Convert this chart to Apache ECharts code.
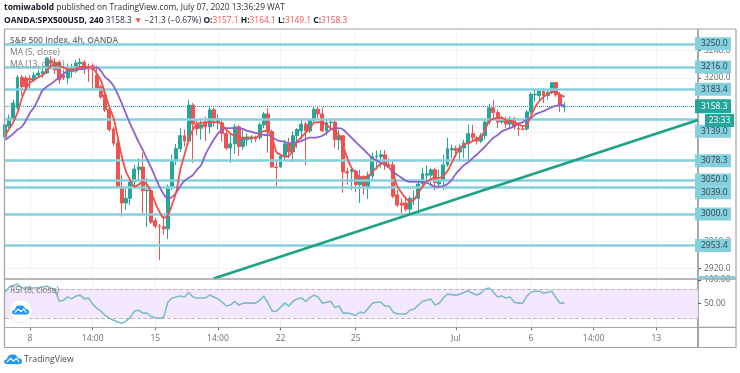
<!DOCTYPE html>
<html><head><meta charset="utf-8">
<style>html,body{margin:0;padding:0;background:#fff}#c{width:740px;height:373px;filter:blur(0.3px)}</style>
<script src="https://cdn.jsdelivr.net/npm/echarts@6/dist/echarts.min.js"></script>
</head><body><div id="c"></div>
<script>
const tickIdx=[6,21,36,51,66,84,108,126,141,156];
const tickLabels=['8','14:00','15','14:00','22','25','Jul','6','14:00','13'];
const opens=[3113,3129,3141,3156,3201,3200,3199,3197,3204,3206,
3207,3226,3223,3223,3204,3200,3209,3210,3221,3223,
3215,3218,3204,3187,3175,3154,3125,3104,3040,3016,
3023,3047,3065,3069,3034,3034,2990,2982,2981,2978,
3040,3078,3096,3115,3107,3160,3132,3126,3134,3128,
3153,3134,3134,3118,3097,3103,3128,3099,3109,3110,
3113,3112,3131,3147,3121,3069,3069,3084,3103,3091,
3115,3122,3132,3122,3138,3154,3147,3122,3134,3135,
3109,3115,3062,3062,3063,3043,3054,3038,3056,3084,
3084,3087,3072,3072,3028,3016,3016,3007,3022,3023,
3044,3057,3057,3065,3044,3050,3072,3094,3096,3091,
3097,3104,3118,3112,3107,3115,3135,3156,3149,3135,
3138,3132,3140,3126,3125,3125,3150,3175,3174,3181,
3174,3179,3193,3175,3157.1];
const closes=[3131,3141,3163,3201,3187,3187,3197,3204,3207,3209,
3229,3222,3212,3197,3200,3215,3215,3222,3223,3215,
3213,3212,3185,3172,3153,3124,3104,3040,3016,3023,
3047,3066,3069,3034,3035,2988,2982,2981,2978,3040,
3078,3096,3115,3107,3160,3132,3125,3131,3128,3153,
3140,3140,3118,3097,3103,3128,3099,3112,3113,3113,
3110,3131,3147,3121,3069,3068,3085,3103,3091,3115,
3124,3132,3122,3138,3154,3147,3122,3134,3135,3109,
3115,3062,3060,3065,3043,3054,3038,3056,3084,3085,
3087,3072,3071,3026,3013,3013,3007,3023,3023,3044,
3059,3059,3065,3046,3050,3072,3096,3096,3093,3097,
3104,3118,3112,3107,3115,3135,3156,3149,3135,3140,
3132,3140,3128,3125,3124,3150,3176,3176,3181,3174,
3179,3193,3175,3160,3158.3];
const highs=[3138,3146,3168,3204,3204,3203,3204,3209,3212,3215,
3231,3232,3229,3226,3212,3221,3221,3226,3229,3226,
3221,3221,3218,3190,3179,3157,3128,3109,3057,3040,
3053,3072,3082,3090,3053,3041,2994,2985,2997,3043,
3087,3103,3126,3124,3168,3163,3138,3141,3143,3159,
3156,3146,3141,3124,3118,3132,3131,3126,3118,3116,
3115,3135,3150,3156,3124,3079,3088,3109,3112,3121,
3126,3138,3135,3141,3157,3157,3156,3138,3141,3138,
3124,3116,3068,3068,3065,3065,3057,3062,3090,3093,
3094,3094,3082,3079,3035,3023,3026,3026,3035,3047,
3068,3071,3068,3068,3065,3087,3112,3102,3100,3102,
3109,3131,3131,3115,3119,3141,3162,3168,3153,3144,
3143,3143,3143,3135,3129,3153,3179,3182,3184,3185,
3182,3194,3194,3179,3164.1];
const lows=[3109,3126,3138,3153,3174,3182,3185,3194,3201,3200,
3206,3212,3206,3191,3197,3191,3200,3207,3215,3206,
3194,3182,3185,3169,3150,3121,3100,3038,2996,3006,
3013,3038,3050,3001,2981,2985,2979,2932,2969,2963,
3035,3072,3091,3099,3106,3075,3116,3109,3107,3118,
3128,3124,3106,3094,3075,3088,3085,3094,3100,3104,
3106,3109,3126,3090,3068,3040,3068,3079,3082,3076,
3097,3109,3072,3119,3134,3138,3121,3115,3126,3097,
3094,3031,3043,3035,3032,3016,3028,3022,3050,3065,
3068,3065,3068,3023,3010,3000,3004,2998,3013,2998,
3038,3047,3041,3035,3041,3035,3069,3082,3085,3079,
3082,3079,3106,3102,3104,3109,3131,3138,3126,3132,
3126,3126,3124,3115,3124,3122,3147,3165,3168,3163,
3168,3176,3172,3150,3149.1];
const ma5=[3115,3125,3135,3149,3169,3184,3193,3197,3201,3204,
3210,3218,3219,3218,3215,3213,3212,3213,3216,3216,
3216,3215,3206,3196,3176,3157,3141,3113,3084,3062,
3050,3040,3043,3047,3043,3032,3016,3003,2994,2998,
3013,3032,3065,3087,3109,3124,3132,3134,3135,3135,
3135,3135,3131,3124,3118,3115,3112,3112,3112,3112,
3112,3116,3122,3121,3112,3091,3087,3084,3085,3094,
3106,3113,3119,3126,3134,3135,3135,3131,3126,3122,
3116,3100,3082,3068,3060,3054,3054,3056,3062,3068,
3074,3075,3069,3057,3040,3031,3023,3018,3021,3031,
3040,3047,3051,3053,3053,3056,3063,3075,3087,3097,
3102,3104,3107,3110,3113,3124,3137,3140,3141,3141,
3138,3137,3135,3132,3129,3131,3144,3157,3166,3172,
3176,3179,3179,3175,3172];
const ma13=[3109,3113,3118,3124,3128,3137,3149,3157,3169,3182,
3187,3191,3196,3201,3206,3210,3212,3212,3213,3213,
3215,3215,3215,3210,3201,3196,3188,3176,3162,3147,
3132,3119,3106,3094,3081,3068,3054,3040,3029,3023,
3025,3031,3041,3049,3053,3057,3065,3072,3087,3099,
3109,3118,3124,3126,3126,3126,3126,3125,3122,3121,
3119,3118,3116,3116,3113,3109,3107,3106,3104,3104,
3106,3107,3110,3112,3112,3113,3115,3119,3124,3126,
3126,3124,3118,3112,3106,3100,3094,3088,3082,3079,
3075,3072,3068,3062,3057,3053,3049,3047,3047,3047,
3047,3046,3043,3040,3040,3041,3044,3050,3059,3066,
3072,3076,3082,3087,3093,3099,3106,3112,3116,3121,
3124,3126,3129,3132,3135,3138,3141,3146,3149,3151,
3154,3157,3159,3160,3160];
const rsi=[74,85,89,91,83,83,83,83,84,85,
87,83,79,55,57,64,60,66,68,60,
62,49,40,34,25,19,15,11,8.5,13,
21,34,36,30,30,23,20,19,21,53,
62,64,66,64,74,64,62,62,62,68,
64,60,53,45,47,55,47,51,51,51,
51,57,66,51,34,34,42,51,45,55,
60,62,55,62,68,64,51,53,55,42,
45,30,30,28,25,32,30,40,51,53,
53,45,45,32,28,28,28,36,38,47,
55,57,60,47,51,62,70,69,68,70,
74,77,72,68,72,81,83,74,64,66,
62,64,53,51,51,66,74,76,76,72,
74,76,62,51,51];
const levels=[3250,3216,3183.4,3139,3078.3,3050,3039,3000,2953.4];
const priceTicks=[2920,2960,3200,3240];
const levelTicks=[3250,3216,3183.4,3158.3,3121.4,3078.3,3050,3031,3000,2953.4];
const gridLevels=[2920,2960,3000,3040,3080,3120,3160,3200,3240];
const rsiTicks=[50,100];
const rsiBands=[20,80];
const lastPrice=3158.3;
const trendStart=[50,2905];
const trendEnd=[166,3138];

const FONT='"Open Sans","Noto Sans",sans-serif';
const TOTAL=167;
const categories=Array.from({length:TOTAL},(_,i)=>{const k=tickIdx.indexOf(i);return k<0?'':tickLabels[k];});
const isTick=i=>tickIdx.includes(i);
const candles=opens.map((o,i)=>[o,closes[i],lows[i],highs[i]]);
const UP='#26a69a',DOWN='#ef5350',LEVEL='#85d0dc',GRIDC='#f0f4fa',AX='#a7a9ae';
const nulls=Array(TOTAL).fill(null);
const labelShift={3139:12,3039:5.5};

const chart=echarts.init(document.getElementById('c'),null,{renderer:'canvas'});
function txt(x,y,text,fill,size,weight){return {type:'text',silent:true,z:50,style:{x,y,text,fill,font:(weight||'normal')+' '+size+'px '+FONT,verticalAlign:'middle'}};}
const cloudOutline=[[3,11],[0.5,10],[0,8],[1.5,6.3],[3,6],[4,3.5],[6,1.5],[9,1],[12,1.5],[14,3.5],[15,5],[17.5,5.5],[19,7.5],[18.8,9.5],[17,11]];
const ridge=[[3,9],[7,5],[10,8],[13,5],[16,9]];
function logo(x,y,scale,z){return [
 {type:'polygon',silent:true,z,x,y,scaleX:scale,scaleY:scale,shape:{points:cloudOutline,smooth:0.3},style:{fill:'#2196f3'}},
 {type:'polyline',silent:true,z:z+1,x,y,scaleX:scale,scaleY:scale,shape:{points:ridge},style:{fill:null,stroke:'#fff',lineWidth:1.2}}
];}
const S='#a0a2a8';
function ln(x1,y1,x2,y2,w){return {type:'line',silent:true,z:40,shape:{x1,y1,x2,y2},style:{stroke:S,lineWidth:w||1.2}};}
chart.setOption({
 animation:false,
 backgroundColor:'#fff',
 grid:[{left:5,width:693,top:30,height:248.5,containLabel:false},{left:5,width:693,top:279,height:48.3}],
 xAxis:[
  {type:'category',gridIndex:0,data:categories,boundaryGap:false,axisLine:{show:false},axisTick:{show:false},axisLabel:{show:false},
   splitLine:{show:true,interval:i=>isTick(i),lineStyle:{color:GRIDC,width:1}}},
  {type:'category',gridIndex:1,data:categories,boundaryGap:false,axisLine:{show:true,lineStyle:{color:AX,width:1.2}},
   axisTick:{show:true,length:3,interval:i=>isTick(i),lineStyle:{color:'#777'}},
   axisLabel:{show:true,interval:i=>isTick(i),color:'#6a6d78',fontFamily:FONT,fontSize:8.5,margin:7},
   splitLine:{show:true,interval:i=>isTick(i),lineStyle:{color:GRIDC,width:1}}}
 ],
 yAxis:[
  {type:'value',gridIndex:0,position:'right',min:2905,max:3270.4,scale:true,
   axisLine:{show:true,lineStyle:{color:AX,width:2}},
   axisTick:{show:true,length:3,lineStyle:{color:'#555'},customValues:priceTicks.concat(levelTicks)},
   axisLabel:{show:true,color:'#666',fontFamily:FONT,fontSize:8.5,margin:6,customValues:priceTicks,formatter:v=>v.toFixed(1)},
   splitLine:{show:false}},
  {type:'value',gridIndex:1,position:'right',min:0,max:102,
   axisLine:{show:true,lineStyle:{color:AX,width:2}},
   axisTick:{show:true,length:3,lineStyle:{color:'#555'},customValues:rsiTicks},
   axisLabel:{show:true,color:'#666',fontFamily:FONT,fontSize:8.5,margin:6,customValues:rsiTicks,formatter:v=>v.toFixed(2)},
   splitLine:{show:false}}
 ],
 series:[
  {name:'Grid',type:'line',xAxisIndex:0,yAxisIndex:0,data:nulls,silent:true,z:1,showSymbol:false,
   markLine:{silent:true,z:1,symbol:'none',label:{show:false},lineStyle:{color:GRIDC,type:'solid',width:1},data:gridLevels.map(v=>({yAxis:v}))}},
  {name:'SPX',type:'candlestick',xAxisIndex:0,yAxisIndex:0,data:candles,barWidth:3.4,z:3,
   itemStyle:{color:UP,color0:DOWN,borderColor:UP,borderColor0:DOWN,borderWidth:1}},
  {name:'Levels',type:'line',xAxisIndex:0,yAxisIndex:0,data:nulls,silent:true,z:4,showSymbol:false,
   markLine:{silent:true,z:4,symbol:'none',animation:false,lineStyle:{color:LEVEL,type:'solid',width:2.6},
    label:{show:true,position:'end',distance:-3,formatter:p=>p.value.toFixed(1),backgroundColor:LEVEL,color:'#33414b',fontFamily:FONT,fontSize:8.5,
     width:30,height:13,lineHeight:13,padding:[0,0,0,6],align:'left',verticalAlign:'middle'},
    data:levels.map(v=>({yAxis:v,label:{offset:[0,labelShift[v]||0]}}))}},
  {name:'Last',type:'line',xAxisIndex:0,yAxisIndex:0,data:nulls,silent:true,z:4,showSymbol:false,
   markLine:{silent:true,z:4,symbol:'none',lineStyle:{color:UP,type:'dotted',width:1},
    label:{show:true,position:'end',distance:-3,formatter:p=>p.value.toFixed(1),backgroundColor:UP,color:'#fff',fontFamily:FONT,fontSize:8.5,
     width:30,height:14,lineHeight:14,padding:[0,0,0,6],align:'left',verticalAlign:'middle'},
    data:[{yAxis:lastPrice}]}},
  {name:'MA13',type:'line',xAxisIndex:0,yAxisIndex:0,data:ma13,smooth:0.3,showSymbol:false,z:6,lineStyle:{color:'#8e63c9',width:1.8}},
  {name:'MA5',type:'line',xAxisIndex:0,yAxisIndex:0,data:ma5,smooth:0.3,showSymbol:false,z:6,lineStyle:{color:'#f0504c',width:1.8}},
  {name:'Trend',type:'line',xAxisIndex:0,yAxisIndex:0,data:[trendStart,trendEnd],showSymbol:false,z:7,lineStyle:{color:'#1fa186',width:2.8}},
  {name:'RSI',type:'line',xAxisIndex:1,yAxisIndex:1,data:rsi,showSymbol:false,z:6,lineStyle:{color:'#7dbccb',width:1.6},
   markArea:{silent:true,z:1,itemStyle:{color:'#f3e8fd'},data:[[{yAxis:rsiBands[0]},{yAxis:rsiBands[1]}]]},
   markLine:{silent:true,z:2,symbol:'none',label:{show:false},lineStyle:{color:'#b9b4bd',type:'dashed',width:1},data:rsiBands.map(v=>({yAxis:v}))}}
 ],
 graphic:[
  {type:'text',silent:true,z:50,style:{x:4,y:8,verticalAlign:'middle',font:'8.4px '+FONT,fill:'#2a2e39',
    rich:{b:{font:'bold 8.4px '+FONT,fill:'#131722'}},text:'{b|tomiwabold} published on TradingView.com, July 07, 2020 13:36:29 WAT'}},
  {type:'text',silent:true,z:50,style:{x:4,y:21,verticalAlign:'middle',font:'8.4px '+FONT,fill:'#2a2e39',
    rich:{b:{font:'bold 8.4px '+FONT,fill:'#131722'},r:{font:'8.4px '+FONT,fill:'#ef5350'}},
    text:'{b|OANDA:SPX500USD, 240} 3158.3 {r|▼} −21.3 (−0.67%) {b|O:}{r|3157.1} {b|H:}{r|3164.1} {b|L:}{r|3149.1} {b|C:}{r|3158.3}'}},
  txt(10,41,'S&P 500 Index, 4h, OANDA','#6a6d78',8.5,'600'),
  txt(10,53,'MA (5, close)','#777',8.5),
  txt(10,65,'MA (13, close)','#777',8.5),
  txt(10,290.5,'RSI (8, close)','#777',8.5),
  ln(4.5,29,736,29),ln(4.5,29,4.5,347.5),ln(4.5,347.5,736,347.5),ln(736,29,736,347.5),ln(4.5,279,736,279,1.4),ln(698,327.3,736,327.3),ln(698,327,698,347.5,2),
  {type:'rect',silent:true,z:45,shape:{x:698,y:276,width:37,height:2},style:{fill:LEVEL}},
  {type:'rect',silent:true,z:45,shape:{x:705,y:114,width:29,height:13},style:{fill:UP}},
  {type:'text',silent:true,z:46,style:{x:719.5,y:120.5,text:'23:33',fill:'#fff',font:'8.5px '+FONT,align:'center',verticalAlign:'middle'}},
  {type:'circle',silent:true,z:30,shape:{cx:21,cy:311,r:11.5},style:{fill:'#fff',stroke:'#e6e8ee',lineWidth:1}},
  ...logo(12,304.5,0.9,31),
  ...logo(4,353.5,0.95,31),
  txt(24,360,'TradingView','#4a4e59',8.7)
 ]
});
</script></body></html>
